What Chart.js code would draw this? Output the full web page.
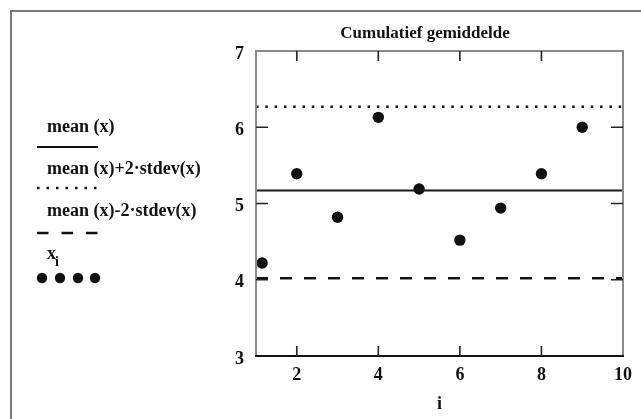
<!DOCTYPE html>
<html>
<head>
<meta charset="utf-8">
<script src="https://cdn.jsdelivr.net/npm/chart.js@4/dist/chart.umd.min.js"></script>
<style>
  html, body { margin: 0; padding: 0; background: #fff; }
  #wrap { width: 641px; height: 419px; position: relative; }
</style>
</head>
<body>
<div id="wrap"><canvas id="cumChart"></canvas></div>
<script>
// values
const iValues = [1.15, 2, 3, 4, 5, 6, 7, 8, 9];
const xValues = [4.22, 5.39, 4.82, 6.13, 5.19, 4.52, 4.94, 5.39, 6.00];
const meanX = 5.17;
const upperX = 6.27;   // mean + 2*stdev
const lowerX = 4.02;   // mean - 2*stdev
const xRange = [1, 10];
const yRange = [3, 7];
const xTickLabels = [2, 4, 6, 8, 10];
const yTickLabels = [3, 4, 5, 6, 7];
const innerTicksX = [2, 4, 6, 8];
const innerTicksY = [4, 5, 6];
const chartTitle = 'Cumulatief gemiddelde';
const legendLabels = ['mean (x)', 'mean (x)+2·stdev(x)', 'mean (x)-2·stdev(x)'];

const serif = '"Liberation Serif", "DejaVu Serif", serif';
const ink = '#111';

function hline(v) {
  return [{ x: xRange[0], y: v }, { x: xRange[1], y: v }];
}

const decor = {
  id: 'decor',
  afterDatasetsDraw(chart) {
    const { ctx, chartArea: a, scales: { x, y } } = chart;
    ctx.save();
    // outer frame
    ctx.strokeStyle = '#7a7a7a';
    ctx.lineWidth = 2;
    ctx.beginPath();
    ctx.moveTo(11, 419); ctx.lineTo(11, 11); ctx.lineTo(641, 11);
    ctx.stroke();

    // plot box
    ctx.strokeStyle = '#8a8a8a';
    ctx.beginPath();
    ctx.moveTo(a.left, a.bottom); ctx.lineTo(a.left, a.top);
    ctx.lineTo(a.right, a.top); ctx.lineTo(a.right, a.bottom);
    ctx.stroke();
    ctx.strokeStyle = ink;
    ctx.beginPath();
    ctx.moveTo(a.left - 1, a.bottom); ctx.lineTo(a.right + 1, a.bottom);
    ctx.stroke();

    // inner tick marks
    ctx.strokeStyle = '#222';
    ctx.lineWidth = 1.6;
    innerTicksX.forEach(v => {
      const px = x.getPixelForValue(v);
      ctx.beginPath();
      ctx.moveTo(px, a.bottom); ctx.lineTo(px, a.bottom - 10);
      ctx.moveTo(px, a.top); ctx.lineTo(px, a.top + 10);
      ctx.stroke();
    });
    innerTicksY.forEach(v => {
      const py = y.getPixelForValue(v);
      ctx.beginPath();
      ctx.moveTo(a.left, py); ctx.lineTo(a.left + 12, py);
      ctx.moveTo(a.right, py); ctx.lineTo(a.right - 12, py);
      ctx.stroke();
    });

    // title
    ctx.fillStyle = ink;
    ctx.font = 'bold 17px ' + serif;
    ctx.textAlign = 'center';
    ctx.textBaseline = 'middle';
    ctx.fillText(chartTitle, 425, 34);

    // legend
    ctx.font = 'bold 18px ' + serif;
    ctx.textAlign = 'left';
    ctx.fillText(legendLabels[0], 47, 127);
    ctx.fillText(legendLabels[1], 47, 169);
    ctx.fillText(legendLabels[2], 47, 211);
    ctx.fillText('x', 47, 254);
    const xw = ctx.measureText('x').width;
    ctx.font = 'bold 14px ' + serif;
    ctx.fillText('i', 47 + xw - 1, 262);

    ctx.strokeStyle = ink;
    ctx.lineWidth = 2;
    ctx.beginPath(); ctx.moveTo(37, 147); ctx.lineTo(98, 147); ctx.stroke();

    ctx.lineWidth = 2.5;
    ctx.setLineDash([2.5, 7]);
    ctx.beginPath(); ctx.moveTo(37, 188); ctx.lineTo(99, 188); ctx.stroke();

    ctx.setLineDash([11.5, 13]);
    ctx.beginPath(); ctx.moveTo(37, 233); ctx.lineTo(99, 233); ctx.stroke();
    ctx.setLineDash([]);

    [42, 60, 78, 95].forEach(cx => {
      ctx.beginPath(); ctx.arc(cx, 278, 5.2, 0, Math.PI * 2); ctx.fill();
    });
    ctx.restore();
  }
};

new Chart(document.getElementById('cumChart'), {
  type: 'scatter',
  data: {
    datasets: [
      {
        label: legendLabels[0],
        data: hline(meanX),
        showLine: true,
        borderColor: '#1a1a1a',
        borderWidth: 2,
        pointRadius: 0
      },
      {
        label: legendLabels[1],
        data: hline(upperX),
        showLine: true,
        borderColor: ink,
        borderWidth: 2.5,
        borderDash: [2.5, 6.8],
        pointRadius: 0
      },
      {
        label: legendLabels[2],
        data: hline(lowerX),
        showLine: true,
        borderColor: ink,
        borderWidth: 2.5,
        borderDash: [12, 12],
        pointRadius: 0
      },
      {
        label: 'x',
        data: iValues.map((v, k) => ({ x: v, y: xValues[k] })),
        pointRadius: 5.7,
        pointBackgroundColor: ink,
        pointBorderWidth: 0
      }
    ]
  },
  options: {
    responsive: true,
    maintainAspectRatio: false,
    animation: false,
    layout: { padding: { left: 226, right: 18, top: 51, bottom: 0 } },
    plugins: {
      legend: { display: false },
      tooltip: { enabled: false }
    },
    scales: {
      x: {
        type: 'linear',
        min: xRange[0],
        max: xRange[1],
        afterBuildTicks: s => { s.ticks = xTickLabels.map(v => ({ value: v })); },
        afterFit: s => { s.height = 63; },
        grid: { display: false },
        border: { display: false },
        ticks: {
          color: ink, padding: 1, maxRotation: 0, autoSkip: false,
          font: { family: serif, size: 18, weight: 'bold' }
        },
        title: {
          display: true, text: 'i', color: ink,
          padding: { top: 0, bottom: 4 },
          font: { family: serif, size: 18, weight: 'bold' }
        }
      },
      y: {
        min: yRange[0],
        max: yRange[1],
        afterBuildTicks: s => { s.ticks = yTickLabels.map(v => ({ value: v })); },
        afterFit: s => { s.width = 30; },
        grid: { display: false },
        border: { display: false },
        ticks: {
          color: ink, padding: 4, autoSkip: false, labelOffset: 3,
          font: { family: serif, size: 18, weight: 'bold' }
        }
      }
    }
  },
  plugins: [decor]
});
</script>
</body>
</html>
